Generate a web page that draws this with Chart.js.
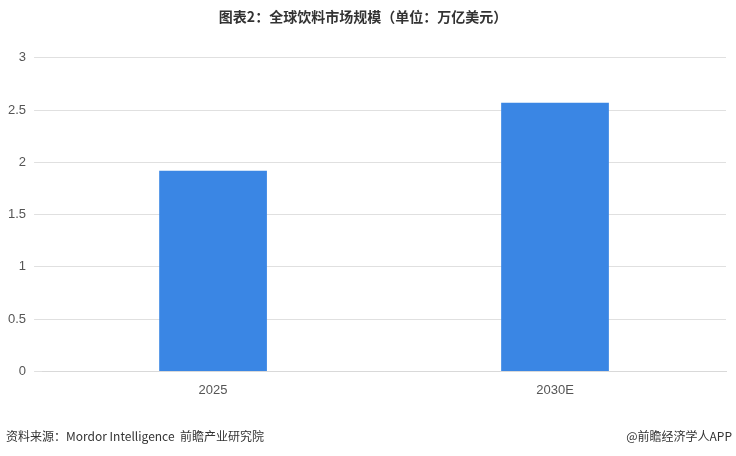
<!DOCTYPE html>
<html><head><meta charset="utf-8">
<script src="https://cdn.jsdelivr.net/npm/chart.js@4/dist/chart.umd.min.js"></script>
<style>
body{margin:0;background:#fff;font-family:"Noto Sans CJK SC","Noto Sans",sans-serif}
#wrap{position:relative;width:736px;height:456px}
.foot{position:absolute;top:427px;font-size:12px;color:#333}
</style></head><body>
<div id="wrap"><canvas id="c" width="736" height="456"></canvas>
<div class="foot" style="left:6px">资料来源：Mordor Intelligence&nbsp;&nbsp;前瞻产业研究院</div>
<div class="foot" style="right:4px">@前瞻经济学人APP</div>
</div>
<script>
const categories=["2025","2030E"];
const values=[1.92,2.57];
const yTicks=[0,0.5,1,1.5,2,2.5,3];
new Chart(document.getElementById('c'),{
type:'bar',
data:{labels:categories,datasets:[{data:values,backgroundColor:'#3a86e4',categoryPercentage:0.63,barPercentage:0.5}]},
options:{responsive:false,animation:false,
layout:{padding:{left:0,right:10,top:0,bottom:55}},
plugins:{legend:{display:false},tooltip:{enabled:false},
title:{display:true,text:'图表2：全球饮料市场规模（单位：万亿美元）',color:'#333',font:{size:14,weight:'bold',family:'"Noto Sans CJK SC"'},padding:{top:8,bottom:33}}},
scales:{
x:{grid:{display:false},border:{color:'#d9d9d9'},ticks:{color:'#555',font:{size:13}}},
y:{min:0,max:3,afterBuildTicks:a=>{a.ticks=yTicks.map(v=>({value:v}))},
grid:{color:'#e0e0e0'},border:{display:false},ticks:{color:'#555',font:{size:13},padding:8,callback:v=>String(v)}}
}}});
</script></body></html>
